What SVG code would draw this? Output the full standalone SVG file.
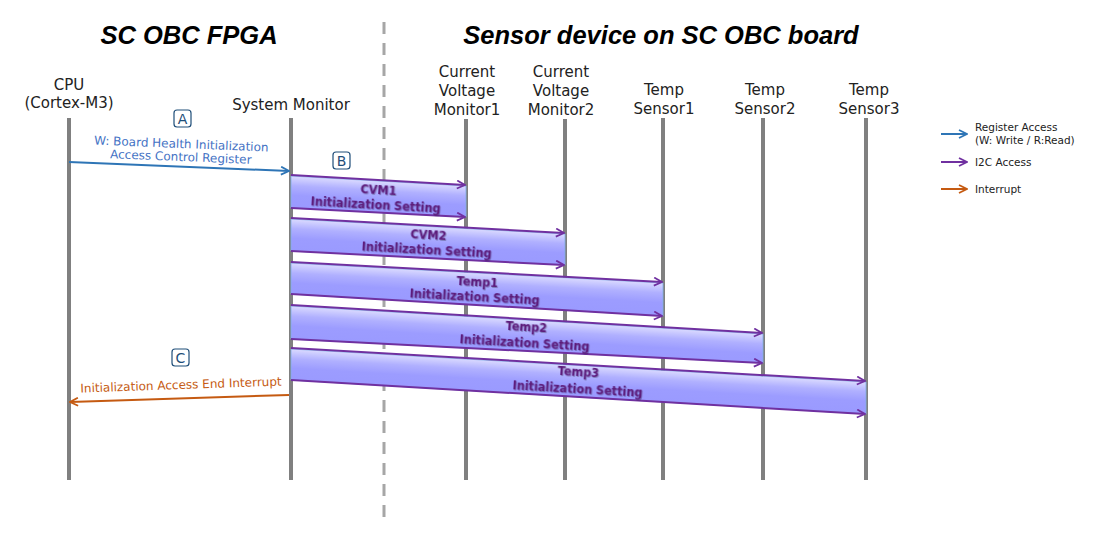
<svg xmlns="http://www.w3.org/2000/svg" width="1110" height="540" viewBox="0 0 1110 540">
<style>
.ll{stroke:#808080;stroke-width:4;fill:none}
.hd{font-family:"DejaVu Sans",sans-serif;font-size:15px;fill:#222;text-anchor:middle}
.tt{font-family:"Liberation Sans",Arial,sans-serif;font-size:25.5px;font-weight:bold;font-style:italic;fill:#000;text-anchor:middle}
.i2c{stroke:#7030a0;stroke-width:2;fill:none;marker-end:url(#ap)}
.band{fill:url(#bg);stroke:#7fb0e8;stroke-width:0.8}
.bl{font-family:"DejaVu Sans Condensed","DejaVu Sans",sans-serif;font-stretch:condensed;font-size:12.5px;font-weight:bold;fill:#5c1a7a;text-anchor:middle;filter:url(#sh)}
.box{fill:#fff;stroke:#1f4e79;stroke-width:1.2}
.bx{font-family:"DejaVu Sans",sans-serif;font-size:14px;fill:#1f4e79;text-anchor:middle}
.lg{font-family:"DejaVu Sans",sans-serif;font-size:10.5px;fill:#222}
</style>
<defs>
<linearGradient id="bg" x1="0" y1="0" x2="0" y2="1">
<stop offset="0" stop-color="#dadaff"/>
<stop offset="0.3" stop-color="#b0b0ff"/>
<stop offset="0.6" stop-color="#9c9cff"/>
<stop offset="1" stop-color="#9a9aff"/>
</linearGradient>
<filter id="sh" x="-10%" y="-30%" width="120%" height="160%">
<feDropShadow dx="0.8" dy="0.8" stdDeviation="0.4" flood-color="#000" flood-opacity="0.35"/>
</filter>
<marker id="ap" viewBox="0 0 10 10" refX="9" refY="5" markerWidth="10" markerHeight="10" markerUnits="userSpaceOnUse" orient="auto">
<path d="M1,1 L9,5 L1,9" fill="none" stroke="#7030a0" stroke-width="1.8"/>
</marker>
<marker id="ab" viewBox="0 0 10 10" refX="9" refY="5" markerWidth="10" markerHeight="10" markerUnits="userSpaceOnUse" orient="auto">
<path d="M1,1 L9,5 L1,9" fill="none" stroke="#2e75b6" stroke-width="1.8"/>
</marker>
<marker id="ao" viewBox="0 0 10 10" refX="9" refY="5" markerWidth="10" markerHeight="10" markerUnits="userSpaceOnUse" orient="auto">
<path d="M1,1 L9,5 L1,9" fill="none" stroke="#c55a11" stroke-width="1.8"/>
</marker>
</defs>
<rect width="1110" height="540" fill="#fff"/>

<g id="titles">
<text class="tt" x="189" y="44">SC OBC FPGA</text>
<text class="tt" x="661" y="44">Sensor device on SC OBC board</text>
<line x1="384" y1="22" x2="384" y2="518" stroke="#a6a6a6" stroke-width="3" stroke-dasharray="12 9"/>
</g>

<g id="cpu">
<text class="hd" x="69" y="90">CPU</text>
<text class="hd" x="69" y="108">(Cortex-M3)</text>
<line class="ll" x1="69" y1="118" x2="69" y2="480"/>
</g>
<g id="sysmon">
<text class="hd" x="291" y="110">System Monitor</text>
<line class="ll" x1="291" y1="118" x2="291" y2="480"/>
</g>
<g id="cvm1">
<text class="hd" x="467" y="77">Current</text>
<text class="hd" x="467" y="96">Voltage</text>
<text class="hd" x="467" y="115">Monitor1</text>
<line class="ll" x1="466" y1="119" x2="466" y2="480"/>
</g>
<g id="cvm2">
<text class="hd" x="561" y="77">Current</text>
<text class="hd" x="561" y="96">Voltage</text>
<text class="hd" x="561" y="115">Monitor2</text>
<line class="ll" x1="565" y1="119" x2="565" y2="480"/>
</g>
<g id="temp1">
<text class="hd" x="664" y="95">Temp</text>
<text class="hd" x="664" y="114">Sensor1</text>
<line class="ll" x1="663" y1="118" x2="663" y2="480"/>
</g>
<g id="temp2">
<text class="hd" x="765" y="95">Temp</text>
<text class="hd" x="765" y="114">Sensor2</text>
<line class="ll" x1="763" y1="118" x2="763" y2="480"/>
</g>
<g id="temp3">
<text class="hd" x="869" y="95">Temp</text>
<text class="hd" x="869" y="114">Sensor3</text>
<line class="ll" x1="866" y1="118" x2="866" y2="480"/>
</g>

<g id="connectors">
<!-- A -->
<rect class="box" x="174" y="110" width="17" height="17" rx="3"/>
<text class="bx" x="182.5" y="124">A</text>
<g transform="rotate(2.3 181 153)" font-family="DejaVu Sans,sans-serif" font-size="12" fill="#4472c4" text-anchor="middle">
<text x="181" y="148">W: Board Health Initialization</text>
<text x="181" y="161">Access Control Register</text>
</g>
<line x1="69" y1="162" x2="289" y2="171" stroke="#2e75b6" stroke-width="2" marker-end="url(#ab)"/>

<!-- B -->
<rect class="box" x="333" y="152" width="17" height="17" rx="3"/>
<text class="bx" x="341.5" y="166">B</text>

<g id="band1">
<polygon class="band" transform="matrix(1,0.05714,0,1,291,175)" points="0,1 175,1 175,32 0,33"/>
<line class="i2c" x1="291" y1="175" x2="465" y2="185"/>
<line class="i2c" x1="291" y1="208" x2="465" y2="217"/>
<g transform="rotate(3.2 378 197)"><text class="bl" x="378" y="194">CVM1</text><text class="bl" x="376" y="209">Initialization Setting</text></g>
</g>
<g id="band2">
<polygon class="band" transform="matrix(1,0.05474,0,1,291,218)" points="0,1 274,1 274,32 0,33"/>
<line class="i2c" x1="291" y1="218" x2="564" y2="233"/>
<line class="i2c" x1="291" y1="251" x2="564" y2="265"/>
<g transform="rotate(3.1 428 242)"><text class="bl" x="428" y="239">CVM2</text><text class="bl" x="427" y="254">Initialization Setting</text></g>
</g>
<g id="band3">
<polygon class="band" transform="matrix(1,0.05376,0,1,291,262)" points="0,1 372,1 372,34 0,32"/>
<line class="i2c" x1="291" y1="262" x2="662" y2="282"/>
<line class="i2c" x1="291" y1="294" x2="662" y2="316"/>
<g transform="rotate(3.1 477 289)"><text class="bl" x="477" y="286">Temp1</text><text class="bl" x="475" y="301">Initialization Setting</text></g>
</g>
<g id="band4">
<polygon class="band" transform="matrix(1,0.05932,0,1,291,305)" points="0,1 472,1 472,30 0,34"/>
<line class="i2c" x1="291" y1="305" x2="762" y2="333"/>
<line class="i2c" x1="291" y1="339" x2="762" y2="363"/>
<g transform="rotate(3.3 526 334)"><text class="bl" x="526" y="331">Temp2</text><text class="bl" x="525" y="347">Initialization Setting</text></g>
</g>
<g id="band5">
<polygon class="band" transform="matrix(1,0.05739,0,1,291,348)" points="0,1 575,1 575,33 0,32"/>
<line class="i2c" x1="291" y1="348" x2="865" y2="381"/>
<line class="i2c" x1="291" y1="380" x2="865" y2="414"/>
<g transform="rotate(3.3 578 380)"><text class="bl" x="578" y="376">Temp3</text><text class="bl" x="578" y="393">Initialization Setting</text></g>
</g>

<!-- C -->
<rect class="box" x="172" y="349" width="17" height="17" rx="3"/>
<text class="bx" x="180.5" y="363">C</text>
<text transform="rotate(-2 181 385)" x="181" y="389" font-family="DejaVu Sans,sans-serif" font-size="12" fill="#c55a11" text-anchor="middle">Initialization Access End Interrupt</text>
<line x1="289" y1="395" x2="70" y2="402" stroke="#c55a11" stroke-width="2" marker-end="url(#ao)"/>
</g>

<g id="legend">
<line x1="941" y1="134" x2="967" y2="134" stroke="#2e75b6" stroke-width="2" marker-end="url(#ab)"/>
<text class="lg" x="975" y="131">Register Access</text>
<text class="lg" x="975" y="144">(W: Write / R:Read)</text>
<line x1="941" y1="162" x2="967" y2="162" stroke="#7030a0" stroke-width="2" marker-end="url(#ap)"/>
<text class="lg" x="975" y="166">I2C Access</text>
<line x1="941" y1="189" x2="967" y2="189" stroke="#c55a11" stroke-width="2" marker-end="url(#ao)"/>
<text class="lg" x="975" y="193">Interrupt</text>
</g>
</svg>
